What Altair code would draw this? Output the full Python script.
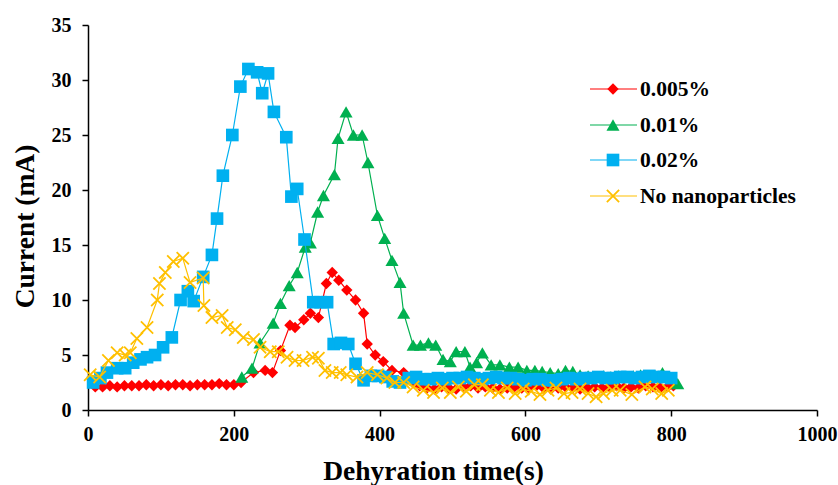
import altair as alt
import pandas as pd

# ---------------- data ----------------
names = ["0.005%", "0.01%", "0.02%", "No nanoparticles"]

red_x = [10, 20, 30, 40, 50, 60, 70, 80, 90, 100, 110, 120, 130, 140, 150, 160, 170, 180, 190, 200,
         210, 227, 243, 253, 264, 277, 284, 296, 305, 316, 327, 335, 344, 355, 367, 378, 383, 394, 405,
         417, 433, 445, 455, 465, 475, 485, 495, 505, 515, 525, 535, 545, 555, 565, 575, 585, 595, 605,
         615, 625, 635, 645, 655, 665, 675, 685, 695, 705, 715, 725, 735, 745, 755, 765, 775, 785, 795, 803]
red_y = [2.1, 2.1, 2.2, 2.1, 2.2, 2.2, 2.2, 2.3, 2.2, 2.3, 2.2, 2.3, 2.3, 2.2, 2.3, 2.3, 2.3, 2.4, 2.3, 2.3,
         2.5, 3.4, 3.6, 3.4, 5.4, 7.7, 7.5, 8.2, 8.8, 8.4, 11.5, 12.5, 11.8, 10.9, 10.0, 8.8, 6.0, 5.0, 4.4,
         3.6, 3.4, 2.6, 2.2, 2.0, 1.9, 2.1, 2.0, 1.9, 2.1, 2.2, 2.0, 2.1, 2.0, 1.9, 2.0, 2.1, 2.0, 2.0,
         2.2, 2.0, 1.9, 2.0, 2.1, 2.0, 1.9, 2.0, 2.1, 2.0, 2.1, 2.2, 2.0, 2.1, 2.0, 2.2, 2.1, 2.0, 2.1, 2.2]

green_x = [211, 225, 236, 254, 264, 276, 287, 298, 305, 315, 323, 338, 343, 354, 364, 376, 384, 397, 407,
           417, 428, 433, 446, 456, 467, 477, 487, 497, 505, 517, 524, 533, 541, 553, 565, 578, 590, 602,
           613, 623, 634, 645, 655, 665, 675, 686, 697, 707, 717, 728, 738, 748, 758, 768, 778, 788, 798, 809]
green_y = [3.0, 3.8, 6.1, 7.9, 9.7, 11.3, 12.5, 14.8, 15.2, 18.0, 19.5, 21.4, 24.7, 27.1, 25.0, 25.0, 22.5,
           17.7, 15.6, 13.6, 11.6, 8.8, 5.9, 5.9, 6.1, 5.9, 4.6, 4.4, 5.3, 5.3, 3.9, 4.3, 5.2, 4.1, 4.1, 3.9,
           3.9, 3.6, 3.6, 3.5, 3.4, 3.3, 3.6, 3.5, 3.2, 3.1, 3.0, 3.1, 3.0, 3.1, 3.0, 3.1, 3.2, 3.0, 3.1,
           3.4, 3.0, 2.4]

blue_x = [7, 17, 26, 40, 51, 62, 72, 81, 92, 103, 115, 127, 137, 145, 158, 170, 177, 185, 198, 209, 220,
          232, 239, 247, 255, 272, 279, 287, 297, 309, 319, 328, 337, 347, 357, 367, 378, 388, 398, 408,
          418, 428, 440, 450, 460, 470, 480, 490, 500, 510, 520, 530, 540, 550, 560, 570, 580, 590, 600,
          610, 620, 630, 640, 650, 660, 670, 680, 690, 700, 710, 720, 730, 740, 750, 760, 770, 780, 790, 800]
blue_y = [2.5, 2.9, 3.4, 3.8, 3.8, 4.3, 4.6, 4.8, 5.0, 5.7, 6.6, 10.0, 10.8, 9.9, 12.1, 14.1, 17.4, 21.3,
          25.0, 29.4, 31.0, 30.7, 28.8, 30.6, 27.1, 24.8, 19.4, 20.1, 15.5, 9.8, 9.8, 9.8, 6.0, 6.1, 6.0,
          4.2, 2.7, 3.1, 3.1, 3.0, 2.6, 2.5, 2.9, 3.0, 2.8, 2.8, 2.9, 2.8, 2.9, 2.9, 3.0, 2.9, 2.8, 2.9,
          3.0, 2.9, 2.9, 2.8, 2.7, 2.8, 2.8, 2.7, 2.7, 2.8, 2.9, 2.8, 2.9, 2.9, 3.0, 2.9, 2.9, 3.0, 3.0,
          2.9, 3.0, 3.1, 3.0, 3.0, 2.9]

yellow_x = [3, 16, 28, 40, 51, 58, 67, 81, 95, 98, 106, 117, 130, 140, 158, 159, 170, 184, 191, 202, 213,
            227, 236, 250, 261, 273, 284, 295, 308, 316, 325, 335, 346, 355, 369, 383, 397, 410, 421, 433,
            446, 460, 474, 486, 497, 508, 519, 530, 541, 552, 563, 575, 586, 597, 608, 620, 631, 642, 653,
            664, 675, 686, 697, 707, 719, 730, 746, 764, 774, 787, 796]
yellow_y = [3.2, 3.0, 4.5, 5.2, 5.0, 5.2, 6.5, 7.5, 10.0, 11.5, 12.5, 13.5, 13.8, 11.6, 12.0, 9.5, 8.4, 8.6,
            7.5, 7.3, 6.6, 6.4, 5.7, 5.3, 5.3, 4.8, 4.5, 4.5, 4.8, 4.7, 3.6, 3.4, 3.4, 3.2, 3.0, 3.4, 3.2,
            2.9, 2.5, 2.5, 2.1, 1.8, 1.6, 2.0, 1.6, 2.1, 1.7, 2.3, 2.3, 1.8, 1.6, 2.0, 1.5, 1.9, 1.7, 1.4,
            1.8, 2.0, 1.5, 1.6, 1.9, 1.5, 1.2, 1.5, 1.8, 1.8, 1.4, 2.1, 1.9, 1.5, 1.8]

x_ticks = [0, 200, 400, 600, 800, 1000]
y_ticks = [0, 5, 10, 15, 20, 25, 30, 35]

# ---------------- styling ----------------
series = [
    (names[0], red_x, red_y, "#FF0000", "diamond", 130),
    (names[1], green_x, green_y, "#00B050", "triangle-up", 170),
    (names[2], blue_x, blue_y, "#00B0F0", "square", 160),
    (names[3], yellow_x, yellow_y, "#FFC000", "M-1,-1L1,1M-1,1L1,-1", 150),
]
legend_rows = [64, 100, 135, 171]  # pixel y of legend rows inside plot area

FONT = "Liberation Serif"

xscale = alt.Scale(domain=[0, 1000], nice=False)
yscale = alt.Scale(domain=[0, 35], nice=False)

xaxis = alt.Axis(values=x_ticks, format="d", labelFlush=False, title="Dehyration time(s)", grid=False,
                 labelFont=FONT, labelFontWeight="bold", labelFontSize=20, labelColor="black",
                 labelPadding=8, tickColor="black", tickSize=6, tickWidth=1.5, domainColor="black",
                 domainWidth=1.5, titleFont=FONT, titleFontWeight="bold", titleFontSize=27.5,
                 titleColor="black", titleX=345, titleY=69, titleBaseline="alphabetic", titleAlign="center")
yaxis = alt.Axis(values=y_ticks, format="d", labelFlush=False, title="Current (mA)", grid=False,
                 labelFont=FONT, labelFontWeight="bold", labelFontSize=20, labelColor="black",
                 labelPadding=11, tickColor="black", tickSize=6, tickWidth=1.5, domainColor="black",
                 domainWidth=1.5, titleFont=FONT, titleFontWeight="bold", titleFontSize=27.5,
                 titleColor="black", titleX=-55, titleY=201, titleBaseline="alphabetic",
                 titleAlign="center", titleAngle=-90)

layers = []
for i, (name, xs, ys, color, shape, size) in enumerate(series):
    df = pd.DataFrame({"t": xs, "c": ys})
    xenc = alt.X("t:Q", scale=xscale, axis=xaxis)
    yenc = alt.Y("c:Q", scale=yscale, axis=yaxis)
    line = alt.Chart(df).mark_line(color=color, strokeWidth=1.2).encode(x=xenc, y=yenc)
    is_x = shape.startswith("M")
    pts = alt.Chart(df).mark_point(
        shape=shape, size=size, filled=not is_x, opacity=1,
        color=color, strokeWidth=1.8 if is_x else 0,
    ).encode(x=xenc, y=yenc)
    layers += [line, pts]

# manual legend (line + marker + label)
for i, (name, xs, ys, color, shape, size) in enumerate(series):
    ldf = pd.DataFrame({"name": [name]})
    yp = legend_rows[i]
    is_x = shape.startswith("M")
    rule = alt.Chart(ldf).mark_rule(color=color, strokeWidth=1.2).encode(
        x=alt.value(502), x2=alt.value(549), y=alt.value(yp))
    mk = alt.Chart(ldf).mark_point(
        shape=shape, size=size, filled=not is_x, opacity=1,
        color=color, strokeWidth=1.8 if is_x else 0,
    ).encode(x=alt.value(525), y=alt.value(yp))
    txt = alt.Chart(ldf).mark_text(
        align="left", baseline="middle", font=FONT, fontWeight="bold", fontSize=21.5, color="black"
    ).encode(x=alt.value(552), y=alt.value(yp + 1), text="name:N")
    layers += [rule, mk, txt]

chart = alt.layer(*layers).properties(
    width=729, height=385,
    autosize=alt.AutoSizeParams(type="none"),
    padding={"left": 88, "top": 25, "right": 21, "bottom": 75},
    background="white",
).configure_view(stroke=None)

chart.save("out.html", embed_options={"renderer": "svg", "actions": False})
